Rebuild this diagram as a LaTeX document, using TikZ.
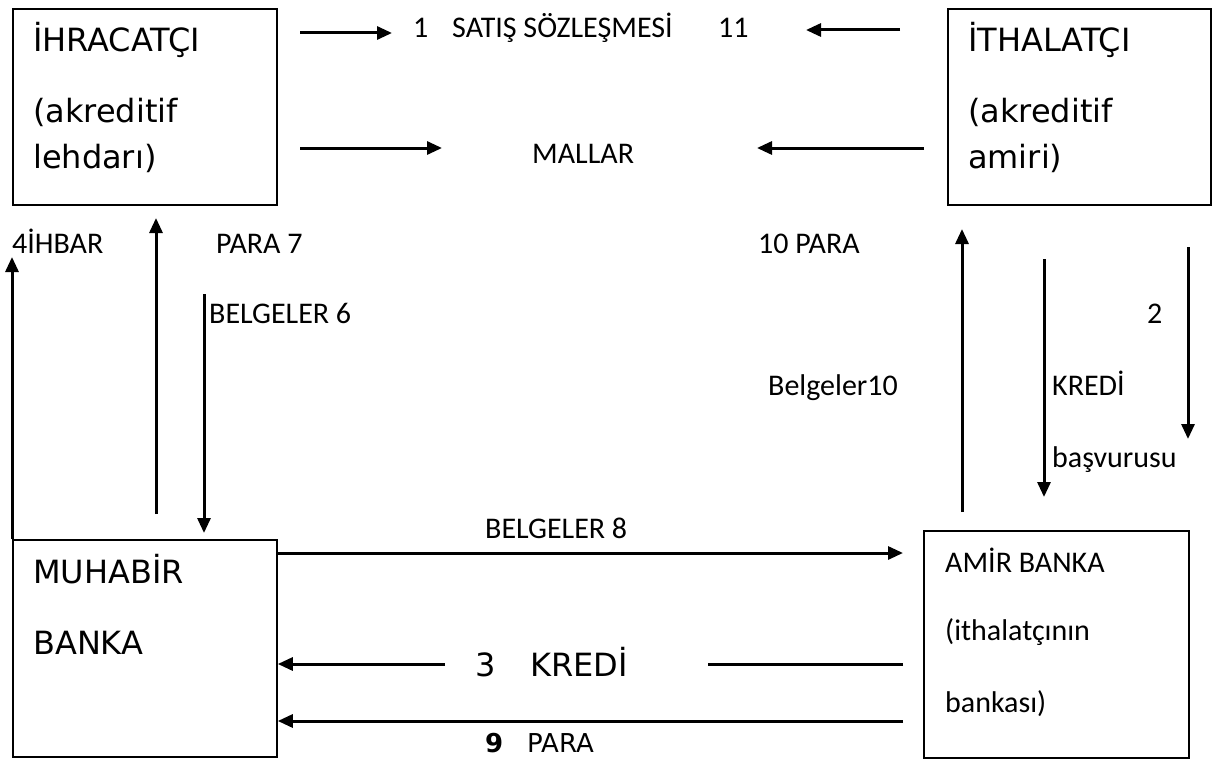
\documentclass[tikz,border=0pt]{standalone}
\usepackage{fontspec}
\setmainfont{Carlito}
\newfontfamily\verd{DejaVu Sans}
\usetikzlibrary{arrows.meta}
\begin{document}
\begin{tikzpicture}[x=1pt,y=-1pt,
  boxst/.style={draw,line width=1.8pt,inner sep=0pt,anchor=north west},
  bigtxt/.style={anchor=base west,inner sep=0pt,font=\verd\fontsize{32}{36}\selectfont},
  lbl/.style={anchor=base west,inner sep=0pt,font=\fontsize{30}{34}\selectfont},
  arr/.style={line width=3pt,-{Triangle[length=15pt,width=13pt]}},
  plain/.style={line width=3pt}]
\useasboundingbox (0,0) rectangle (1213,760);
% boxes
\node[boxst,minimum width=264pt,minimum height=196pt] (ihr) at (12,8) {};
\node[boxst,minimum width=263pt,minimum height=196pt] (ith) at (947,8) {};
\node[boxst,minimum width=264pt,minimum height=217pt] (muh) at (12,539) {};
\node[boxst,minimum width=265pt,minimum height=227pt] (amir) at (923,530) {};
% box texts
\node[bigtxt] (t1) at (33,52) {İHRACATÇI};
\node[bigtxt] (t2) at (33,122) {(akreditif};
\node[bigtxt] (t3) at (33,168) {lehdarı)};
\node[bigtxt] (t4) at (968,52) {İTHALATÇI};
\node[bigtxt] (t5) at (968,122) {(akreditif};
\node[bigtxt] (t6) at (968,168) {amiri)};
\node[bigtxt] (t7) at (33,583) {MUHABİR};
\node[bigtxt] (t8) at (33,654) {BANKA};
\node[lbl] (t9) at (945,572) {AMİR BANKA};
\node[lbl] (t10) at (945,640) {(ithalatçının};
\node[lbl] (t11) at (945,712) {bankası)};
% labels
\node[lbl] (l1) at (413,38) {1};
\node[lbl] (l2) at (452,38) {SATIŞ SÖZLEŞMESİ};
\node[lbl] (l3) at (718,38) {11};
\node[lbl] (l4) at (532,163) {MALLAR};
\node[lbl] (l5) at (12,253) {4İHBAR};
\node[lbl] (l6) at (216,253) {PARA 7};
\node[lbl] (l7) at (209,323) {BELGELER 6};
\node[lbl] (l8) at (758,253) {10 PARA};
\node[lbl] (l9) at (768,395) {Belgeler10};
\node[lbl] (l10) at (1147,323) {2};
\node[lbl] (l11) at (1052,395) {KREDİ};
\node[lbl] (l12) at (1052,467) {başvurusu};
\node[lbl] (l13) at (485,538) {BELGELER 8};
\node[bigtxt] (l14) at (475,676) {3};
\node[bigtxt] (l15) at (530,676) {KREDİ};
\node[anchor=base west,inner sep=0pt,font=\verd\bfseries\fontsize{26}{30}\selectfont] (l16) at (485,752) {9};
\node[anchor=base west,inner sep=0pt,font=\verd\fontsize{26}{30}\selectfont] (l17) at (527,752) {PARA};
% connector end points
\coordinate (a1s) at (300,33); \coordinate (a1e) at (392,33);
\coordinate (a2s) at (900,30); \coordinate (a2e) at (806,30);
\coordinate (a3s) at (300,148); \coordinate (a3e) at (442,148);
\coordinate (a4s) at (924,148); \coordinate (a4e) at (757,148);
\coordinate (a5e) at (12,257);
\coordinate (a6s) at (156,514); \coordinate (a6e) at (156,218);
\coordinate (a7s) at (204,294); \coordinate (a7e) at (204,533);
\coordinate (a8s) at (962,512); \coordinate (a8e) at (962,229);
\coordinate (a9s) at (1044,259); \coordinate (a9e) at (1044,497);
\coordinate (a10s) at (1188,247); \coordinate (a10e) at (1188,439);
\coordinate (a11e) at (903,553);
\coordinate (a12s) at (903,664); \coordinate (a12m) at (708,664);
\coordinate (a12b) at (445,664);
\coordinate (a13s) at (903,721);
% connectors
\draw[arr] (a1s) -- (a1e);
\draw[arr] (a2s) -- (a2e);
\draw[arr] (a3s) -- (a3e);
\draw[arr] (a4s) -- (a4e);
\draw[arr] (muh.north west) -- (a5e);
\draw[arr] (a6s) -- (a6e);
\draw[arr] (a7s) -- (a7e);
\draw[arr] (a8s) -- (a8e);
\draw[arr] (a9s) -- (a9e);
\draw[arr] (a10s) -- (a10e);
\draw[arr] (muh.north east |- a11e) -- (a11e);
\draw[plain] (a12s) -- (a12m);
\draw[arr] (a12b) -- (muh.east |- a12b);
\draw[arr] (a13s) -- (muh.east |- a13s);
\end{tikzpicture}
\end{document}
